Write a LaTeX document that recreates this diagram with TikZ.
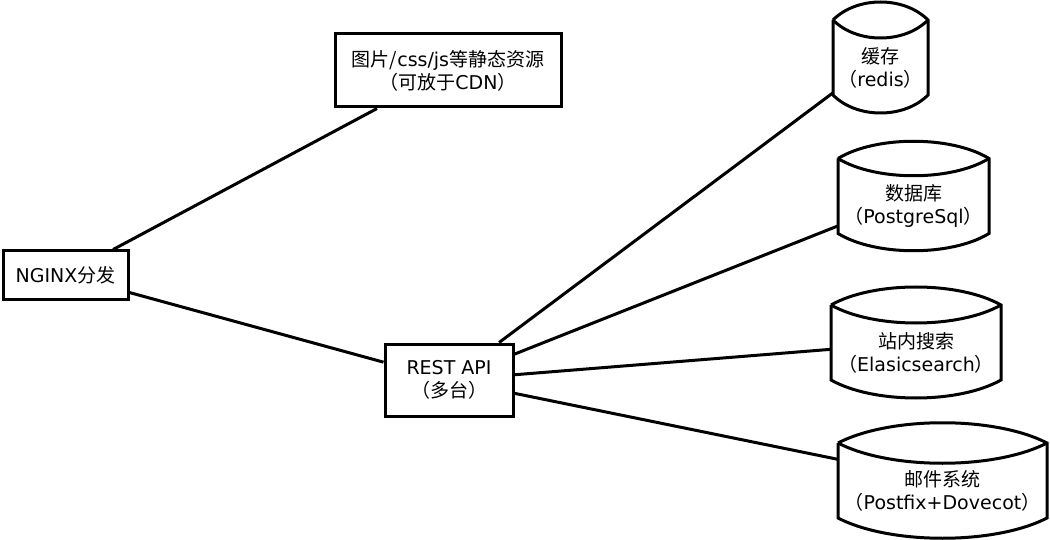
\documentclass[tikz,border=0pt]{standalone}
\usepackage{fontspec}
\setmainfont{DejaVu Sans}
\newfontfamily\cjk{Noto Sans CJK SC}
\usepackage{tikz}
\usetikzlibrary{positioning, calc}

\newcommand{\zh}[1]{{\cjk #1}}

\tikzset{
	box/.style = {draw, rectangle, line width = 3pt, align = center, inner sep = 0pt},
	store/.style = {rectangle, inner sep = 0pt, outer sep = 0pt, minimum height = 75},
	storetext/.style = {align = center, inner sep = 0pt},
	line/.style = {draw, line width = 3pt},
	outline/.style = {draw, line width = 3pt, line join = miter}
}

% cylinder outline round a store node: #1 node, #2 arc control height
\newcommand{\drum}[2]{%
	\draw [outline] (#1.north west) -- (#1.south west)
		.. controls ($(#1.south west)!0.25!(#1.south east) + (0,#2)$) and ($(#1.south west)!0.75!(#1.south east) + (0,#2)$) .. (#1.south east)
		-- (#1.north east)
		.. controls ($(#1.north west)!0.75!(#1.north east) + (0,-#2)$) and ($(#1.north west)!0.25!(#1.north east) + (0,-#2)$) .. (#1.north west);
	\draw [outline] (#1.north west)
		.. controls ($(#1.north west)!0.25!(#1.north east) + (0,#2)$) and ($(#1.north west)!0.75!(#1.north east) + (0,#2)$) .. (#1.north east);
}

\begin{document}
\begin{tikzpicture}[x = 1pt, y = -1pt, every node/.style = {font = \fontsize{19pt}{23pt}\selectfont}]
			\fill [white] (0,0) rectangle (1050,540);
			\useasboundingbox (0,0) rectangle (1050,540);
			
			\node [box, minimum width = 125, minimum height = 48] (nginx) at (65.5,275) {NGINX\zh{分发}};
			\node [box, minimum width = 226, minimum height = 73] (static) at (448,70.5) {\zh{图片/}css/js\zh{等静态资源}\\\zh{（可放于}CDN\zh{）}};
			\node [box, minimum width = 128, minimum height = 72] (rest) at (449,380) {REST API\\\zh{（多台）}};
			
			\node [store, minimum width = 95] (redis) at (880.5,57.5) {};
			\node [store, minimum width = 151] (postgres) at (913.5,196) {};
			\node [store, minimum width = 170] (search) at (916,342.5) {};
			\node [store, minimum width = 209] (mail) at (942.5,480.5) {};
			
			\node [storetext] (redis-text) at ([yshift = -10pt] redis.center) {\zh{缓存}\\\zh{（}redis\zh{）}};
			\node [storetext] (postgres-text) at ([yshift = -10pt] postgres.center) {\zh{数据库}\\\zh{（}PostgreSql\zh{）}};
			\node [storetext] (search-text) at ([yshift = -10pt] search.center) {\zh{站内搜索}\\\zh{（}Elasicsearch\zh{）}};
			\node [storetext] (mail-text) at ([yshift = -10pt] mail.center) {\zh{邮件系统}\\\zh{（}Postfix+Dovecot\zh{）}};
			
			\drum{redis}{24}
			\drum{postgres}{23}
			\drum{search}{24}
			\drum{mail}{27}
			
			\path [line] (nginx) -- (static);
			\path [line] (nginx) -- (rest);
			\path [line] (rest) -- (redis);
			\path [line] (rest) -- (postgres);
			\path [line] (rest) -- (search);
			\path [line] (rest) -- (mail);
		\end{tikzpicture}
\end{document}
